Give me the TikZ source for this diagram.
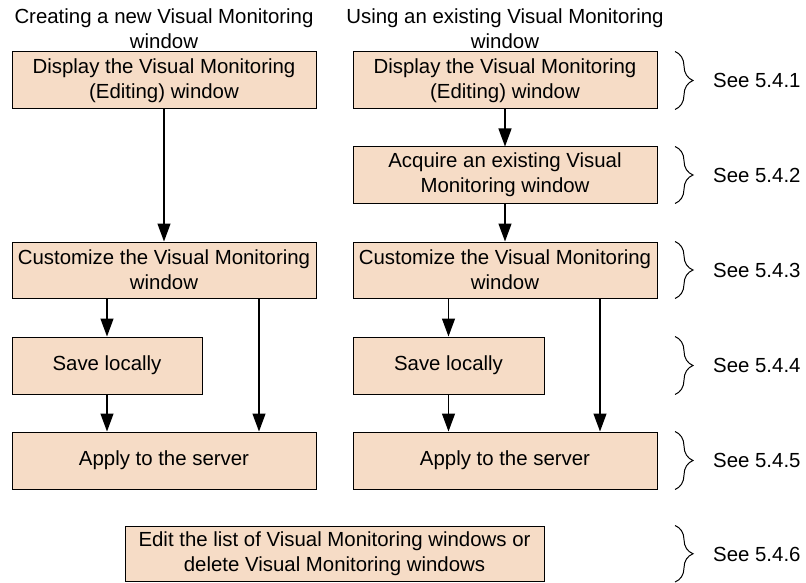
\documentclass[tikz,border=0pt]{standalone}
\usepackage{fontspec}
\setmainfont{Liberation Sans}
\usetikzlibrary{arrows.meta,decorations.pathreplacing}
\definecolor{peach}{RGB}{246,220,198}
\tikzset{
  box/.style={draw=black,line width=1pt,fill=peach,align=center,inner sep=0pt,
    font=\fontsize{20.4}{25}\selectfont},
  wide/.style={box,minimum width=304pt,minimum height=57pt},
  flow/.style={line width=1.3pt,-{Triangle[length=18pt,width=13pt]}},
  brc/.style={draw,line width=1pt,decorate,decoration={brace,amplitude=18pt}},
  lbl/.style={font=\fontsize{20.4}{25}\selectfont,anchor=west,inner sep=0pt},
  ttl/.style={font=\fontsize{20.4}{25}\selectfont,align=center,inner sep=0pt}
}
\begin{document}
\begin{tikzpicture}[x=1pt,y=-1pt]
\useasboundingbox (0,0) rectangle (806,583);
% titles
\node[ttl] (t1) at (164,29) {Creating a new Visual Monitoring\\window};
\node[ttl] (t2) at (505,29) {Using an existing Visual Monitoring\\window};
% left column
\node[wide] (L1) at (164,80.5) {Display the Visual Monitoring\\(Editing) window};
\node[wide,minimum height=56pt] (L2) at (164,270) {Customize the Visual Monitoring\\window};
\node[box,minimum width=190pt,minimum height=57pt] (L3) at (107,365.5) {Save locally};
\node[wide] (L4) at (164,460.5) {Apply to the server};
% right column
\node[wide] (R1) at (505,80.5) {Display the Visual Monitoring\\(Editing) window};
\node[wide,minimum height=56pt] (R2) at (505,175) {Acquire an existing Visual\\Monitoring window};
\node[wide,minimum height=56pt] (R3) at (505,270) {Customize the Visual Monitoring\\window};
\node[box,minimum width=191pt,minimum height=57pt] (R4) at (448.5,365.5) {Save locally};
\node[wide] (R5) at (505,460.5) {Apply to the server};
% bottom
\node[box,minimum width=419pt,minimum height=55pt] (E) at (334.5,553.5) {Edit the list of Visual Monitoring windows or\\delete Visual Monitoring windows};
% helper coordinates
\coordinate (xl) at (259,0);
\coordinate (xr) at (600,0);
% arrows
\draw[flow] (L1) -- (L2);
\draw[flow] (L2.south -| L3.north) -- (L3.north);
\draw[flow] (L3) -- (L3.south |- L4.north);
\draw[flow] (L2.south -| xl) -- (L4.north -| xl);
\draw[flow] (R1) -- (R2);
\draw[flow] (R2) -- (R3);
\draw[flow] (R3.south -| R4.north) -- (R4.north);
\draw[flow] (R4) -- (R4.south |- R5.north);
\draw[flow] (R3.south -| xr) -- (R5.north -| xr);
% braces
\coordinate (bx) at (675,0);
\draw[brc] (bx |- R1.north) -- (bx |- R1.south);
\draw[brc] (bx |- R2.north) -- (bx |- R2.south);
\draw[brc] (bx |- R3.north) -- (bx |- R3.south);
\draw[brc] (bx |- R4.north) -- (bx |- R4.south);
\draw[brc] (bx |- R5.north) -- (bx |- R5.south);
\draw[brc] (bx |- E.north) -- (675,582);
% labels
\node[lbl] (s1) at (713,80.5) {See 5.4.1};
\node[lbl] (s2) at (713,175) {See 5.4.2};
\node[lbl] (s3) at (713,270) {See 5.4.3};
\node[lbl] (s4) at (713,365.5) {See 5.4.4};
\node[lbl] (s5) at (713,460.5) {See 5.4.5};
\node[lbl] (s6) at (713,554) {See 5.4.6};
\end{tikzpicture}
\end{document}
